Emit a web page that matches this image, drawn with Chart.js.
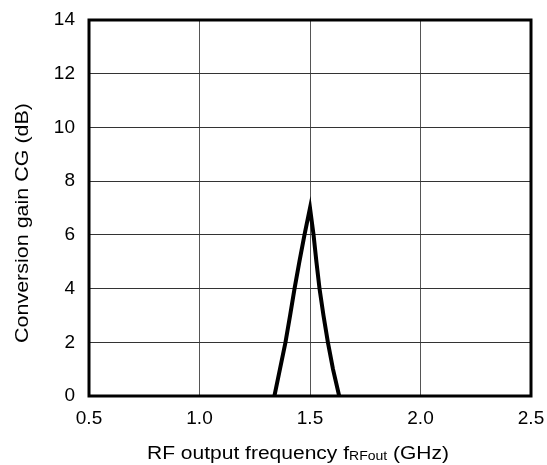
<!DOCTYPE html>
<html lang="en">
<head>
  <meta charset="UTF-8" />
  <title>Conversion gain vs RF output frequency</title>
  <script src="https://cdn.jsdelivr.net/npm/chart.js"></script>
  <style>
    * { margin: 0; padding: 0; box-sizing: border-box; }
    body { background: #fff; }
    .wrap { width: 547px; height: 465px; position: relative; }
  </style>
</head>
<body>
  <div class="wrap">
    <canvas id="cgChart"></canvas>
  </div>
  <script>
    // values
    const freqGHz = [1.339, 1.364, 1.389, 1.41, 1.43, 1.452, 1.475, 1.50, 1.516, 1.529, 1.543, 1.561, 1.581, 1.604, 1.632];
    const gainDb  = [0,     1,     2,     3,    4,    5,     6,     7,    6,     5,     4,     3,     2,     1,     0];
    const xTicks = [0.5, 1.0, 1.5, 2.0, 2.5];
    const yTicks = [0, 2, 4, 6, 8, 10, 12, 14];

    const font = "'Liberation Sans', Arial, sans-serif";

    // draws a run of text pieces stretched to a given width
    function drawParts(ctx, parts, width) {
      let total = 0;
      parts.forEach(p => { ctx.font = p.size + 'px ' + font; total += ctx.measureText(p.t).width; });
      ctx.scale(width / total, 1);
      let x = 0;
      parts.forEach(p => {
        ctx.font = p.size + 'px ' + font;
        ctx.fillText(p.t, x, p.dy);
        x += ctx.measureText(p.t).width;
      });
    }

    // frame round the plot area + both axis titles
    const framePlugin = {
      id: 'frame',
      afterDatasetsDraw(chart) {
        const { ctx, chartArea: a } = chart;
        ctx.save();
        ctx.strokeStyle = '#000';
        ctx.lineWidth = 3;
        ctx.strokeRect(a.left, a.top, a.right - a.left, a.bottom - a.top);
        ctx.restore();
      },
      afterDraw(chart) {
        const ctx = chart.ctx;
        ctx.save();
        ctx.fillStyle = '#000';
        ctx.textBaseline = 'alphabetic';
        ctx.translate(147, 459);
        drawParts(ctx, [
          { t: 'RF output frequency f', size: 18, dy: 0 },
          { t: 'RFout', size: 12, dy: 1 },
          { t: ' (GHz)', size: 18, dy: 0 }
        ], 302);
        ctx.restore();

        ctx.save();
        ctx.fillStyle = '#000';
        ctx.textBaseline = 'middle';
        ctx.translate(23, 343);
        ctx.rotate(-Math.PI / 2);
        drawParts(ctx, [{ t: 'Conversion gain CG (dB)', size: 18, dy: 0 }], 240);
        ctx.restore();
      }
    };

    new Chart(document.getElementById('cgChart'), {
      type: 'line',
      data: {
        datasets: [{
          data: freqGHz.map((f, i) => ({ x: f, y: gainDb[i] })),
          borderColor: '#000',
          borderWidth: 4,
          borderJoinStyle: 'miter',
          pointRadius: 0,
          tension: 0,
          fill: false
        }]
      },
      options: {
        responsive: true,
        maintainAspectRatio: false,
        animation: false,
        layout: { padding: { left: 0, top: 20, right: 16, bottom: 0 } },
        plugins: { legend: { display: false }, tooltip: { enabled: false } },
        scales: {
          x: {
            type: 'linear',
            min: 0.5,
            max: 2.5,
            afterBuildTicks: s => { s.ticks = xTicks.map(v => ({ value: v })); },
            afterFit: s => { s.height = 69; s.paddingLeft = 0; s.paddingRight = 0; },
            grid: { color: '#555', lineWidth: 1, drawTicks: false },
            border: { display: false },
            ticks: {
              padding: 11,
              color: '#000',
              font: { family: font, size: 19 },
              maxRotation: 0,
              callback: v => v.toFixed(1)
            }
          },
          y: {
            min: 0,
            max: 14,
            afterBuildTicks: s => { s.ticks = yTicks.map(v => ({ value: v })); },
            afterFit: s => { s.width = 89; s.paddingTop = 0; s.paddingBottom = 0; },
            grid: { color: '#333', lineWidth: 1, drawTicks: false },
            border: { display: false },
            ticks: {
              padding: 14,
              color: '#000',
              font: { family: font, size: 19 },
              callback: v => String(v)
            }
          }
        }
      },
      plugins: [framePlugin]
    });
  </script>
</body>
</html>
